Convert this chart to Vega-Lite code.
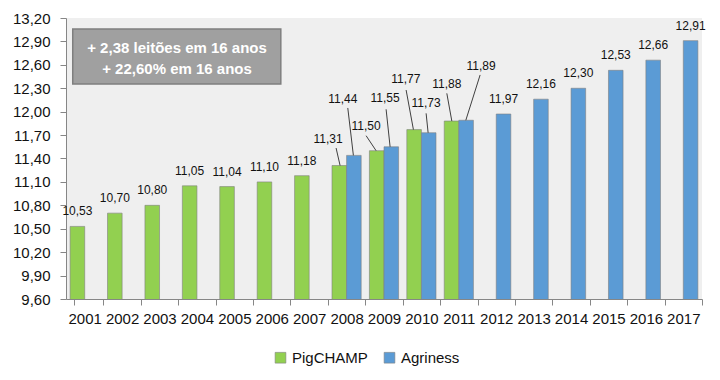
{
  "$schema": "https://vega.github.io/schema/vega-lite/v6.json",
  "width": 636,
  "height": 281,
  "autosize": {"type": "none"},
  "padding": {"left": 66, "top": 18, "right": 18, "bottom": 81},
  "background": "white",
  "config": {
    "font": "Liberation Sans",
    "locale": {"number": {"decimal": ",", "thousands": ".", "grouping": [3], "currency": ["", ""]}},
    "view": {"fill": "#efefef", "stroke": null},
    "axis": {"grid": false, "domainColor": "#868686", "tickColor": "#868686", "labelColor": "#111111", "labelFontSize": 15, "title": null, "labelOverlap": false}
  },
  "datasets": {
    "main": [
      {"year": "2001", "series": "PigCHAMP", "value": 10.53},
      {"year": "2002", "series": "PigCHAMP", "value": 10.70},
      {"year": "2003", "series": "PigCHAMP", "value": 10.80},
      {"year": "2004", "series": "PigCHAMP", "value": 11.05},
      {"year": "2005", "series": "PigCHAMP", "value": 11.04},
      {"year": "2006", "series": "PigCHAMP", "value": 11.10},
      {"year": "2007", "series": "PigCHAMP", "value": 11.18},
      {"year": "2008", "series": "PigCHAMP", "value": 11.31},
      {"year": "2009", "series": "PigCHAMP", "value": 11.50},
      {"year": "2010", "series": "PigCHAMP", "value": 11.77},
      {"year": "2011", "series": "PigCHAMP", "value": 11.88},
      {"year": "2008", "series": "Agriness", "value": 11.44},
      {"year": "2009", "series": "Agriness", "value": 11.55},
      {"year": "2010", "series": "Agriness", "value": 11.73},
      {"year": "2011", "series": "Agriness", "value": 11.89},
      {"year": "2012", "series": "Agriness", "value": 11.97},
      {"year": "2013", "series": "Agriness", "value": 12.16},
      {"year": "2014", "series": "Agriness", "value": 12.30},
      {"year": "2015", "series": "Agriness", "value": 12.53},
      {"year": "2016", "series": "Agriness", "value": 12.66},
      {"year": "2017", "series": "Agriness", "value": 12.91}
    ]
  },
  "data": {"name": "main"},
  "layer": [
    {
      "mark": {"type": "bar", "stroke": "#7f7f7f", "strokeWidth": 0.6, "clip": true},
      "encoding": {
        "x": {
          "field": "year", "type": "nominal",
          "scale": {"type": "band", "paddingInner": 0.22, "paddingOuter": 0.11},
          "axis": {"labelAngle": 0, "tickSize": 6, "labelPadding": 6, "bandPosition": 1, "tickExtra": true, "tickOffset": 4.1, "labelOffset": -4.1, "ticks": true}
        },
        "xOffset": {"field": "series", "type": "nominal", "scale": {"domain": ["PigCHAMP", "Agriness"], "paddingInner": 0, "paddingOuter": 0}},
        "y": {
          "field": "value", "type": "quantitative",
          "scale": {"domain": [9.6, 13.2], "nice": false, "zero": false},
          "axis": {"values": [9.6, 9.9, 10.2, 10.5, 10.8, 11.1, 11.4, 11.7, 12.0, 12.3, 12.6, 12.9, 13.2], "format": ".2f", "tickSize": 6, "labelPadding": 10, "labelOverlap": false, "labelBound": false, "labelFlush": false, "tickCount": 13}
        },
        "color": {
          "field": "series", "type": "nominal",
          "scale": {"domain": ["PigCHAMP", "Agriness"], "range": ["#92d050", "#5b9bd5"]},
          "legend": {
            "title": null, "orient": "none", "direction": "horizontal", "legendX": 207, "legendY": 332,
            "symbolType": "square", "symbolSize": 115, "symbolStrokeColor": "#7f7f7f", "symbolStrokeWidth": 0.6,
            "labelFontSize": 15, "labelColor": "#111111", "labelOffset": 4, "columnPadding": 14
          }
        }
      }
    },
    {
      "transform": [{"filter": "datum.year >= '2008' && datum.year <= '2011'"}],
      "mark": {
        "type": "rule", "color": "#404040", "strokeWidth": 1,
        "xOffset": {"expr": "({'2008PigCHAMP':-10.5,'2008Agriness':1.2,'2009PigCHAMP':-17.9,'2009Agriness':2.1,'2010PigCHAMP':-15.3,'2010Agriness':4.7,'2011PigCHAMP':-12,'2011Agriness':21.3})[datum.year+datum.series]"},
        "yOffset": {"expr": "({'2008PigCHAMP':-17.5,'2008Agriness':-47.4,'2009PigCHAMP':-15,'2009Agriness':-37.5,'2010PigCHAMP':-39.6,'2010Agriness':-19.4,'2011PigCHAMP':-27.7,'2011Agriness':-45.3})[datum.year+datum.series]"},
        "x2Offset": {"expr": "({'2008PigCHAMP':-6.5,'2008Agriness':6.8,'2009PigCHAMP':-7.9,'2009Agriness':6.1,'2010PigCHAMP':-8,'2010Agriness':6.7,'2011PigCHAMP':-7,'2011Agriness':7})[datum.year+datum.series]"}
      },
      "encoding": {
        "x": {"field": "year", "type": "nominal", "bandPosition": 0.5},
        "x2": {"field": "year", "bandPosition": 0.5},
        "y": {"field": "value", "type": "quantitative"},
        "y2": {"field": "value"}
      }
    },
    {
      "mark": {
        "type": "text", "fontSize": 12, "color": "#111111", "baseline": "middle",
        "dx": {"expr": "({'2008PigCHAMP':-18.5,'2008Agriness':-3.7,'2009PigCHAMP':-17.9,'2009Agriness':1.1,'2010PigCHAMP':-15.6,'2010Agriness':4.7,'2011PigCHAMP':-12,'2011Agriness':22.3})[datum.year+datum.series] || (datum.series=='PigCHAMP' ? -7.3 : 7.3)"},
        "dy": {"expr": "({'2008PigCHAMP':-26.5,'2008Agriness':-56,'2009PigCHAMP':-25,'2009Agriness':-48.5,'2010PigCHAMP':-50.6,'2010Agriness':-29.4,'2011PigCHAMP':-37,'2011Agriness':-54.3})[datum.year+datum.series] || -15"}
      },
      "encoding": {
        "x": {"field": "year", "type": "nominal"},
        "y": {"field": "value", "type": "quantitative"},
        "text": {"field": "value", "type": "quantitative", "format": ".2f"}
      }
    },
    {
      "data": {"values": [{"note": "box"}]},
      "mark": {"type": "rect", "fill": "#a0a0a0", "stroke": "#7f7f7f", "strokeWidth": 1.5},
      "encoding": {
        "x": {"datum": "2001", "type": "nominal", "bandPosition": 0.09},
        "x2": {"datum": "2006", "bandPosition": 0.81},
        "y": {"datum": 13.06, "type": "quantitative"},
        "y2": {"datum": 12.355}
      }
    },
    {
      "data": {"values": [{"note": "box"}]},
      "mark": {"type": "text", "fill": "white", "fontWeight": "bold", "fontSize": 15, "align": "center", "baseline": "middle", "lineHeight": 21, "text": ["+ 2,38 leitões em 16 anos", "+ 22,60% em 16 anos"]},
      "encoding": {
        "x": {"datum": "2003", "type": "nominal", "bandPosition": 1.1},
        "y": {"datum": 12.812, "type": "quantitative"}
      }
    }
  ]
}
